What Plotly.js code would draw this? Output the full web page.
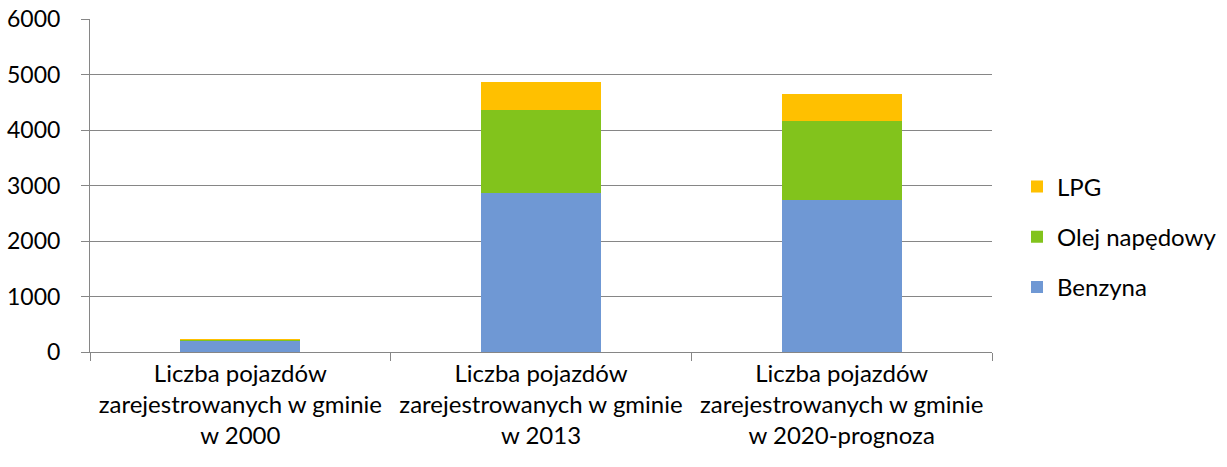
<!DOCTYPE html>
<html>
<head>
<meta charset="utf-8">
<script src="https://cdn.plot.ly/plotly-3.0.1.min.js"></script>
<style>
  body { margin: 0; background: #fff; }
  #chart { width: 1227px; height: 467px; }
</style>
</head>
<body>
<div id="chart"></div>
<script>
const categories = [
  'Liczba pojazdów<br>zarejestrowanych w gminie<br>w 2000',
  'Liczba pojazdów<br>zarejestrowanych w gminie<br>w 2013',
  'Liczba pojazdów<br>zarejestrowanych w gminie<br>w 2020-prognoza'
]
const benzyna = [205, 2860, 2740]
const olej = [25, 1500, 1420]
const lpg = [3, 505, 490]

const makeTrace = (name, values, color, rank) => ({
  x: categories,
  y: values,
  name: name,
  legendgroup: name,
  legendrank: rank,
  type: 'bar',
  marker: { color: color, line: { width: 0 } },
  hoverinfo: 'name+y'
})

// legend shows LPG on top, Benzyna at bottom
const traces = [
  makeTrace('Benzyna', benzyna, '#6f98d4', 3),
  makeTrace('Olej napędowy', olej, '#82c31c', 2),
  makeTrace('LPG', lpg, '#ffc000', 1)
]

const font = { family: 'Lato, "Open Sans", sans-serif', size: 24, color: '#000' }
const tickFont = { family: 'Lato, "Open Sans", sans-serif', size: 23, color: '#000' }

const layout = {
  width: 1227,
  height: 467,
  margin: { t: 19, b: 115, l: 90, r: 235 },
  barmode: 'stack',
  bargap: 0.6,
  font: font,
  paper_bgcolor: '#fff',
  plot_bgcolor: '#fff',
  showlegend: true,
  legend: {
    xref: 'container',
    yref: 'container',
    x: 1017 / 1227,
    xanchor: 'left',
    y: 1 - 237 / 467,
    yanchor: 'middle',
    traceorder: 'grouped',
    tracegroupgap: 16,
    font: font
  },
  xaxis: {
    type: 'category',
    showgrid: false,
    showline: true,
    linecolor: '#868686',
    linewidth: 1,
    ticks: 'outside',
    tickson: 'boundaries',
    ticklen: 8,
    tickcolor: '#868686',
    tickfont: font,
    fixedrange: true
  },
  yaxis: {
    range: [0, 6000],
    dtick: 1000,
    showgrid: true,
    gridcolor: '#868686',
    gridwidth: 1,
    zeroline: false,
    showline: true,
    linecolor: '#868686',
    linewidth: 1,
    ticks: 'outside',
    ticklen: 8,
    tickcolor: '#868686',
    ticklabelstandoff: 16,
    tickfont: tickFont,
    fixedrange: true
  }
}

Plotly.newPlot('chart', traces, layout, { responsive: false, displayModeBar: false })
</script>
</body>
</html>
